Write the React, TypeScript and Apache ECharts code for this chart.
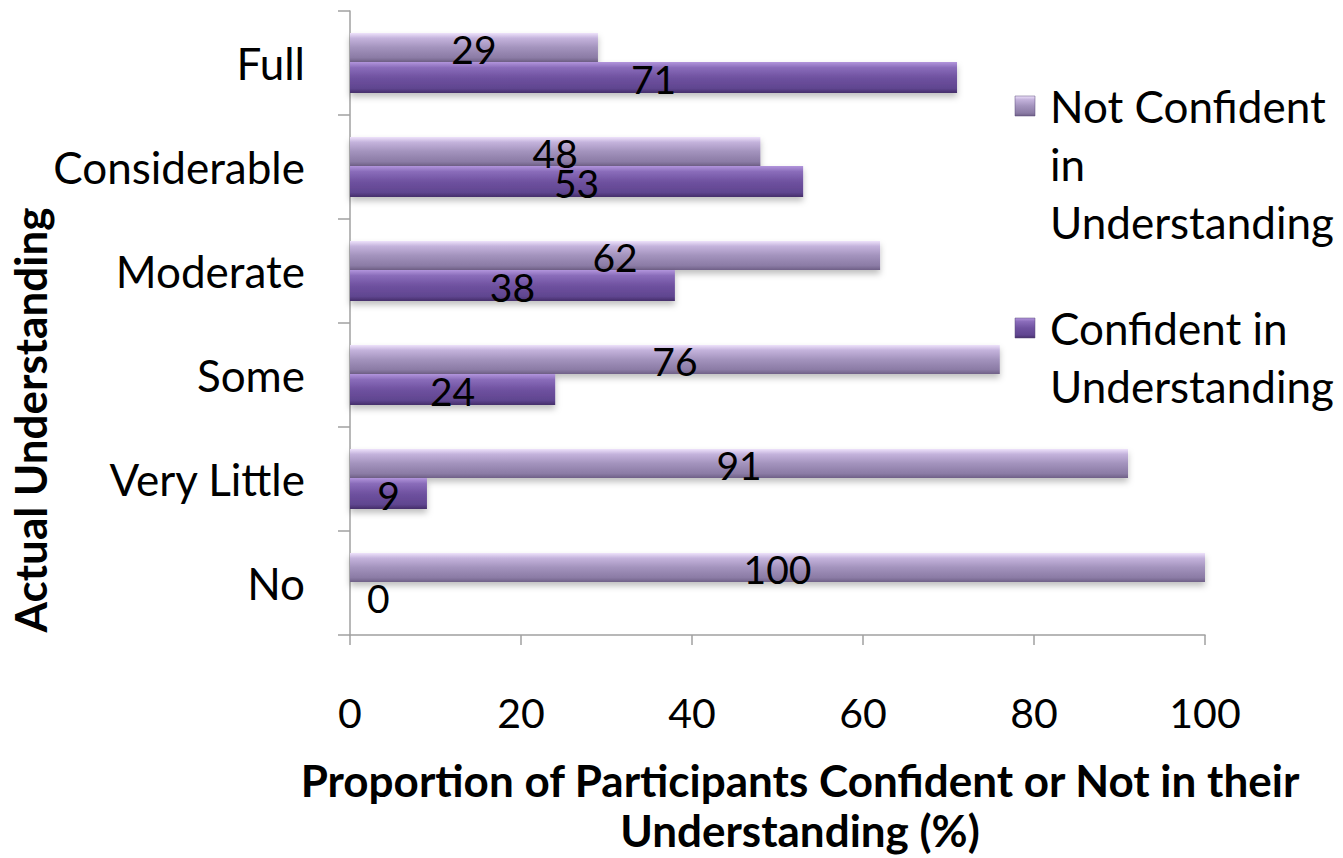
import React, { useEffect, useRef } from "react";
import * as echarts from "echarts";

// Understanding levels, listed bottom to top on the category axis
const categories = ["No", "Very Little", "Some", "Moderate", "Considerable", "Full"];
const notConfident = [100, 91, 76, 62, 48, 29];
const confident = [0, 9, 24, 38, 53, 71];
const xTicks = [0, 20, 40, 60, 80, 100];

const FONT = "Lato, 'Open Sans', sans-serif";

const lightFill = new echarts.graphic.LinearGradient(0, 0, 0, 1, [
  { offset: 0, color: "#eee2fb" },
  { offset: 0.18, color: "#c4b3dc" },
  { offset: 0.5, color: "#a393bd" },
  { offset: 0.85, color: "#8b7ba5" },
  { offset: 1, color: "#6f6087" },
]);
const darkFill = new echarts.graphic.LinearGradient(0, 0, 0, 1, [
  { offset: 0, color: "#b295dc" },
  { offset: 0.18, color: "#8a6cba" },
  { offset: 0.5, color: "#6f52a0" },
  { offset: 0.85, color: "#604590" },
  { offset: 1, color: "#452f6a" },
]);

export default function App() {
  const ref = useRef<HTMLDivElement>(null);

  useEffect(() => {
    if (!ref.current) return;
    const chart = echarts.init(ref.current, null, { renderer: "svg" });

    const barLabel = {
      show: true,
      position: "inside" as const,
      color: "#000",
      fontFamily: FONT,
      fontSize: 39,
      offset: [0, 1],
    };

    const legendItem = (y: number, fill: any, lines: string[]) => ({
      type: "group",
      children: [
        {
          type: "rect",
          shape: { x: 1015, y: y - 10, width: 20, height: 20 },
          style: { fill, stroke: "#5a4a78", lineWidth: 0.5 },
        },
        ...lines.map((t, i) => ({
          type: "text",
          style: {
            text: t,
            x: 1050,
            y: y + i * 58,
            fontFamily: FONT,
            fontSize: 44,
            fill: "#000",
            verticalAlign: "middle",
          },
        })),
      ],
    });

    const title = (text: string, x: number, y: number, rotation = 0) => ({
      type: "text",
      x,
      y,
      rotation,
      style: {
        text,
        fontFamily: FONT,
        fontSize: 44,
        fontWeight: "bold",
        fill: "#000",
        align: "center",
        verticalAlign: "middle",
      },
    });

    chart.setOption({
      animation: false,
      backgroundColor: "#fff",
      grid: { left: 350, right: 138, top: 11, bottom: 223, containLabel: false },
      xAxis: {
        type: "value",
        min: 0,
        max: 100,
        interval: 20,
        axisLine: { show: true, lineStyle: { color: "#a0a0a0", width: 1.5 } },
        axisTick: { show: true, length: 10, lineStyle: { color: "#a0a0a0", width: 1.5 } },
        splitLine: { show: false },
        axisLabel: {
          fontFamily: FONT,
          fontSize: 41,
          color: "#000",
          margin: 57,
          formatter: (v: number) => (xTicks.includes(v) ? String(v) : ""),
        },
      },
      yAxis: {
        type: "category",
        data: categories,
        axisLine: { show: true, lineStyle: { color: "#a0a0a0", width: 1.5 } },
        axisTick: { show: true, length: 12, lineStyle: { color: "#a0a0a0", width: 1.5 } },
        axisLabel: {
          fontFamily: FONT,
          fontSize: 44,
          color: "#000",
          margin: 45,
        },
      },
      series: [
        {
          name: "Not Confident in Understanding",
          type: "bar",
          data: notConfident,
          barWidth: 29,
          barGap: "0%",
          itemStyle: {
            color: lightFill,
            shadowColor: "rgba(0,0,0,0.25)",
            shadowBlur: 6,
            shadowOffsetY: 4,
          },
          label: barLabel,
        },
        {
          name: "Confident in Understanding",
          type: "bar",
          data: confident.map((v) =>
            v === 0
              ? { value: v, label: { position: "right", offset: [12, 0] } }
              : v
          ),
          barWidth: 31,
          barGap: "0%",
          itemStyle: {
            color: darkFill,
            shadowColor: "rgba(0,0,0,0.25)",
            shadowBlur: 6,
            shadowOffsetY: 4,
          },
          label: barLabel,
        },
      ],
      graphic: [
        title("Actual Understanding", 30, 420, Math.PI / 2),
        title("Proportion of Participants Confident or Not in their", 800, 780),
        title("Understanding (%)", 800, 830),
        legendItem(106, lightFill, ["Not Confident", "in", "Understanding"]),
        legendItem(328, darkFill, ["Confident in", "Understanding"]),
      ],
    });

    return () => chart.dispose();
  }, []);

  return (
    <div
      ref={ref}
      style={{ position: "fixed", left: 0, top: 0, width: 1343, height: 858 }}
    />
  );
}
